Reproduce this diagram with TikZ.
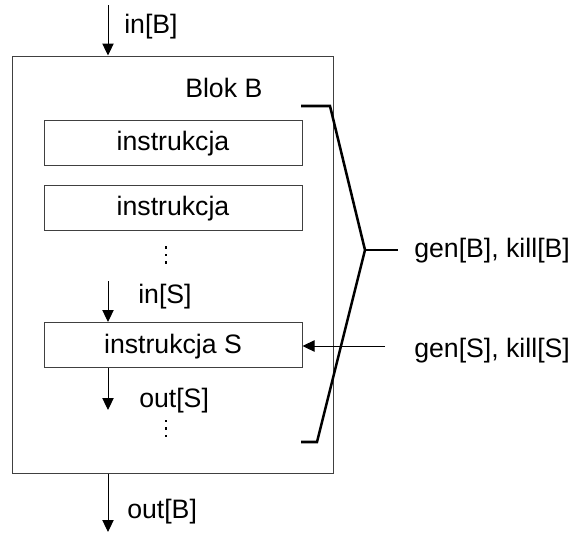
\documentclass[tikz,border=0pt]{standalone}
\usepackage{fontspec}
\setmainfont{Liberation Sans}
\usetikzlibrary{arrows.meta}
\begin{document}
\begin{tikzpicture}[x=0.75pt,y=-0.75pt,
  every node/.style={font=\fontsize{20}{24}\selectfont},
  frame/.style={draw=black!75, line width=0.75pt},
  instr/.style={frame, minimum width=193.5pt, minimum height=33.75pt, inner sep=0pt,
    text height=13.5pt, text depth=1.5pt},
  lbl/.style={anchor=base west, inner sep=0pt},
  flow/.style={line width=0.75pt, -{Triangle[length=9pt,width=8.5pt]}},
  brace/.style={line width=1.9pt, line join=miter},
  dot/.style={rectangle, fill=black, inner sep=0pt, minimum size=2pt}]
\useasboundingbox (0,0) rectangle (575,537);

% outer block
\node[frame, minimum width=240.75pt, minimum height=312.75pt, inner sep=0pt] (B) at (172.5,264.5) {};
\node[lbl] (blokB) at (185,97) {Blok B};

% statements
\node[instr] (i1) at (173,142.5) {instrukcja};
\node[instr] (i2) at (173,207.5) {instrukcja};
\node[instr] (S) at (173,345) {instrukcja S};

% ellipses
\node[dot] (d1) at (166,247.5) {};
\node[dot] (d2) at (166,255) {};
\node[dot] (d3) at (166,262.5) {};
\node[dot] (e1) at (166,421) {};
\node[dot] (e2) at (166,428.5) {};
\node[dot] (e3) at (166,436) {};

% flow arrows
\coordinate (inB) at (108,5);
\draw[flow] (inB) -- (inB |- B.north);
\node[lbl] (linB) at (124,33) {in[B]};

\coordinate (inS) at (108,281);
\draw[flow] (inS) -- (inS |- S.north);
\node[lbl] (linS) at (138,303) {in[S]};

\coordinate (outS) at (108,410);
\draw[flow] (inS |- S.south) -- (outS);
\node[lbl] (loutS) at (139,407) {out[S]};

\coordinate (outB) at (108,532);
\draw[flow] (inB |- B.south) -- (outB);
\node[lbl] (loutB) at (127,518) {out[B]};

% gen/kill of S
\coordinate (gS) at (385,346);
\draw[flow] (gS) -- (S.east |- gS);
\node[lbl] (lgenS) at (414,357) {gen[S], kill[S]};

% bracket for the whole block
\coordinate (bt) at (301,106);
\coordinate (btc) at (330,106);
\coordinate (bm) at (365,250);
\coordinate (bmr) at (398,250);
\coordinate (bbc) at (317,442);
\coordinate (bb) at (301,442);
\draw[brace] (bt) -- (btc) -- (bm) -- (bbc) -- (bb);
\draw[brace] (bm) -- (bmr);
\node[lbl] (lgenB) at (414,257) {gen[B], kill[B]};
\end{tikzpicture}
\end{document}
